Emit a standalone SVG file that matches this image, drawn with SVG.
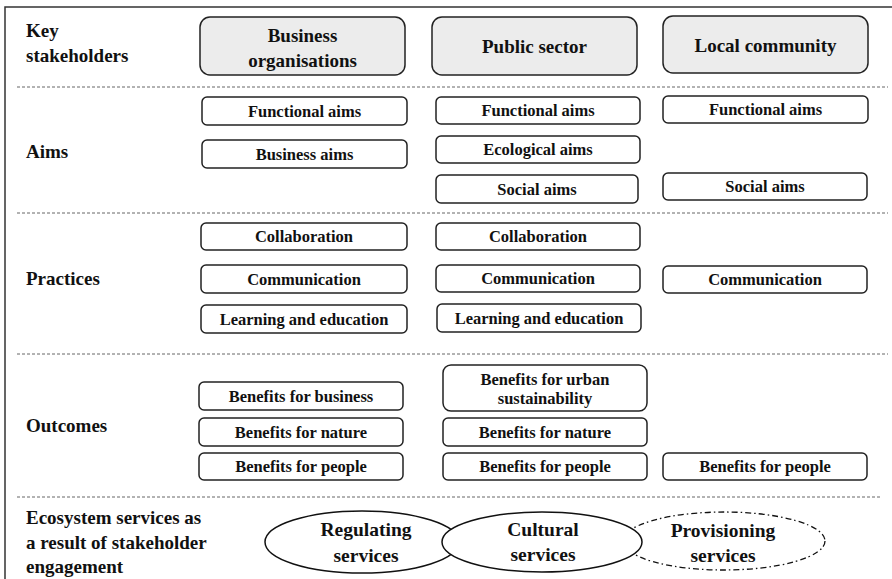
<svg xmlns="http://www.w3.org/2000/svg" width="892" height="579" viewBox="0 0 892 579">
  <style>
    .frame { fill: none; stroke: #333; stroke-width: 1.5; }
    .sep { fill: none; stroke: #666; stroke-width: 1; stroke-dasharray: 3 2; }
    .head { fill: #ececec; stroke: #222; stroke-width: 1.5; }
    .box { fill: #fff; stroke: #222; stroke-width: 1.5; }
    .ell { fill: #fff; stroke: #111; stroke-width: 1.5; }
    .ell-dash { fill: #fff; stroke: #111; stroke-width: 1.3; stroke-dasharray: 6 3 1.5 3; }
    text { font-family: "Liberation Serif", "Times New Roman", serif; font-weight: bold; fill: #111; }
    .lbl { font-size: 19px; }
    .hd { font-size: 19px; text-anchor: middle; }
    .bx { font-size: 16.5px; text-anchor: middle; }
    .el { font-size: 19.5px; text-anchor: middle; }
  </style>

  <!-- outer frame (top and left edges) -->
  <path class="frame" d="M5,579 V7 H892"/>

  <!-- row separators -->
  <g id="separators">
    <line class="sep" x1="17" y1="87" x2="888" y2="87"/>
    <line class="sep" x1="17" y1="213" x2="888" y2="213"/>
    <line class="sep" x1="17" y1="354" x2="888" y2="354"/>
    <line class="sep" x1="17" y1="497" x2="880" y2="497"/>
  </g>

  <!-- row labels -->
  <g id="row-labels">
    <text class="lbl" x="26" y="37">Key</text>
    <text class="lbl" x="26" y="62">stakeholders</text>
    <text class="lbl" x="26" y="158">Aims</text>
    <text class="lbl" x="26" y="285">Practices</text>
    <text class="lbl" x="26" y="432">Outcomes</text>
    <text class="lbl" x="26" y="524">Ecosystem services as</text>
    <text class="lbl" x="26" y="549">a result of stakeholder</text>
    <text class="lbl" x="26" y="573">engagement</text>
  </g>

  <!-- stakeholders -->
  <g id="stakeholder-business">
    <rect class="head" x="200" y="17" width="205" height="58" rx="10"/>
    <text class="hd" x="302.5" y="42">Business</text>
    <text class="hd" x="302.5" y="67">organisations</text>
  </g>
  <g id="stakeholder-public">
    <rect class="head" x="432" y="17" width="205" height="58" rx="10"/>
    <text class="hd" x="534.5" y="53">Public sector</text>
  </g>
  <g id="stakeholder-community">
    <rect class="head" x="663" y="16" width="205" height="57" rx="10"/>
    <text class="hd" x="765.5" y="52">Local community</text>
  </g>

  <!-- aims -->
  <g id="aim-business-functional">
    <rect class="box" x="202" y="97" width="205" height="28" rx="5"/>
    <text class="bx" x="304.5" y="116.5">Functional aims</text>
  </g>
  <g id="aim-business-business">
    <rect class="box" x="202" y="140" width="205" height="28" rx="5"/>
    <text class="bx" x="304.5" y="159.5">Business aims</text>
  </g>
  <g id="aim-public-functional">
    <rect class="box" x="436" y="97" width="204" height="27" rx="5"/>
    <text class="bx" x="538" y="116">Functional aims</text>
  </g>
  <g id="aim-public-ecological">
    <rect class="box" x="436" y="136" width="204" height="27" rx="5"/>
    <text class="bx" x="538" y="155">Ecological aims</text>
  </g>
  <g id="aim-public-social">
    <rect class="box" x="436" y="175" width="202" height="28" rx="5"/>
    <text class="bx" x="537" y="194.5">Social aims</text>
  </g>
  <g id="aim-community-functional">
    <rect class="box" x="663" y="96" width="205" height="27" rx="5"/>
    <text class="bx" x="765.5" y="115">Functional aims</text>
  </g>
  <g id="aim-community-social">
    <rect class="box" x="663" y="173" width="204" height="27" rx="5"/>
    <text class="bx" x="765" y="192">Social aims</text>
  </g>

  <!-- practices -->
  <g id="practice-business-collaboration">
    <rect class="box" x="201" y="223" width="206" height="27" rx="5"/>
    <text class="bx" x="304" y="242">Collaboration</text>
  </g>
  <g id="practice-business-communication">
    <rect class="box" x="201" y="265" width="206" height="28" rx="5"/>
    <text class="bx" x="304" y="284.5">Communication</text>
  </g>
  <g id="practice-business-learning">
    <rect class="box" x="201" y="305" width="206" height="28" rx="5"/>
    <text class="bx" x="304" y="324.5">Learning and education</text>
  </g>
  <g id="practice-public-collaboration">
    <rect class="box" x="436" y="223" width="204" height="27" rx="5"/>
    <text class="bx" x="538" y="242">Collaboration</text>
  </g>
  <g id="practice-public-communication">
    <rect class="box" x="436" y="265" width="204" height="27" rx="5"/>
    <text class="bx" x="538" y="284">Communication</text>
  </g>
  <g id="practice-public-learning">
    <rect class="box" x="437" y="304" width="204" height="28" rx="5"/>
    <text class="bx" x="539" y="323.5">Learning and education</text>
  </g>
  <g id="practice-community-communication">
    <rect class="box" x="663" y="266" width="204" height="27" rx="5"/>
    <text class="bx" x="765" y="285">Communication</text>
  </g>

  <!-- outcomes -->
  <g id="outcome-business-business">
    <rect class="box" x="199" y="382" width="204" height="28" rx="5"/>
    <text class="bx" x="301" y="401.5">Benefits for business</text>
  </g>
  <g id="outcome-business-nature">
    <rect class="box" x="199" y="418" width="204" height="28" rx="5"/>
    <text class="bx" x="301" y="437.5">Benefits for nature</text>
  </g>
  <g id="outcome-business-people">
    <rect class="box" x="199" y="453" width="204" height="27" rx="5"/>
    <text class="bx" x="301" y="472">Benefits for people</text>
  </g>
  <g id="outcome-public-urban">
    <rect class="box" x="443" y="365" width="204" height="46" rx="8"/>
    <text class="bx" x="545" y="385">Benefits for urban</text>
    <text class="bx" x="545" y="404">sustainability</text>
  </g>
  <g id="outcome-public-nature">
    <rect class="box" x="443" y="418" width="204" height="28" rx="5"/>
    <text class="bx" x="545" y="437.5">Benefits for nature</text>
  </g>
  <g id="outcome-public-people">
    <rect class="box" x="443" y="453" width="204" height="27" rx="5"/>
    <text class="bx" x="545" y="472">Benefits for people</text>
  </g>
  <g id="outcome-community-people">
    <rect class="box" x="663" y="453" width="204" height="27" rx="5"/>
    <text class="bx" x="765" y="472">Benefits for people</text>
  </g>

  <!-- ecosystem services (cultural drawn last so it overlaps the others) -->
  <g id="service-regulating">
    <ellipse class="ell" cx="362" cy="542" rx="97" ry="31"/>
    <text class="el" x="366" y="536">Regulating</text>
    <text class="el" x="366" y="562">services</text>
  </g>
  <g id="service-provisioning">
    <ellipse class="ell-dash" cx="724" cy="541" rx="101" ry="29"/>
    <text class="el" x="723" y="537">Provisioning</text>
    <text class="el" x="723" y="562">services</text>
  </g>
  <g id="service-cultural">
    <ellipse class="ell" cx="542" cy="542" rx="100" ry="30"/>
    <text class="el" x="543" y="536">Cultural</text>
    <text class="el" x="543" y="561">services</text>
  </g>
</svg>
